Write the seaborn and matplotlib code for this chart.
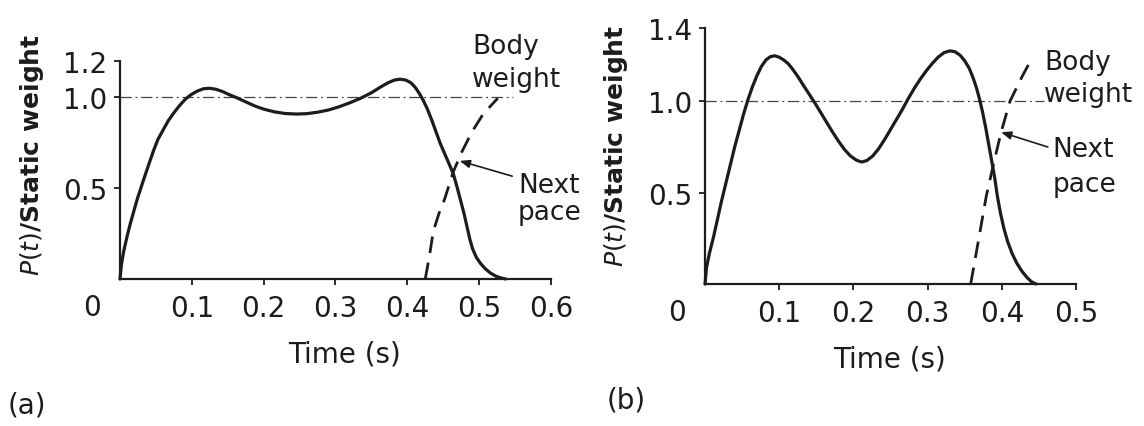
import matplotlib
matplotlib.use("Agg")
import matplotlib.pyplot as plt
import seaborn as sns
import pandas as pd

# ---- walking: ground reaction force over one footfall ----
walk_time = [0, 0.002, 0.005, 0.009, 0.014, 0.019, 0.024, 0.029, 0.034, 0.040,
             0.047, 0.053, 0.060, 0.067, 0.075, 0.083, 0.091, 0.099, 0.108,
             0.116, 0.124, 0.133, 0.142, 0.152, 0.163, 0.175, 0.188, 0.200,
             0.215, 0.230, 0.245, 0.260, 0.275, 0.290, 0.305, 0.320, 0.335,
             0.350, 0.362, 0.373, 0.382, 0.390, 0.398, 0.405, 0.411, 0.417,
             0.422, 0.428, 0.434, 0.440, 0.446, 0.452, 0.458, 0.464, 0.469,
             0.474, 0.479, 0.483, 0.487, 0.491, 0.496, 0.502, 0.509, 0.516,
             0.523, 0.530, 0.537]
walk_force = [0, 0.08, 0.15, 0.22, 0.30, 0.37, 0.44, 0.50, 0.56, 0.63,
              0.71, 0.77, 0.82, 0.87, 0.915, 0.955, 0.99, 1.015, 1.035,
              1.047, 1.05, 1.045, 1.033, 1.015, 0.997, 0.975, 0.952, 0.935,
              0.92, 0.911, 0.908, 0.91, 0.918, 0.93, 0.948, 0.97, 0.995,
              1.025, 1.055, 1.08, 1.095, 1.10, 1.095, 1.08, 1.055, 1.02,
              0.985, 0.935, 0.875, 0.81, 0.745, 0.69, 0.635, 0.58, 0.51,
              0.435, 0.36, 0.29, 0.22, 0.165, 0.12, 0.085, 0.055, 0.032,
              0.016, 0.006, 0.0]
walk_next_time = [0.425, 0.431, 0.436, 0.444, 0.452, 0.464, 0.476, 0.490, 0.506, 0.526]
walk_next_force = [0.0, 0.13, 0.26, 0.36, 0.44, 0.59, 0.70, 0.81, 0.91, 0.995]

# ---- fast walking: two sharper peaks, shorter contact ----
fast_time = [0, 0.002, 0.006, 0.011, 0.016, 0.022, 0.028, 0.034, 0.040, 0.046,
             0.052, 0.058, 0.064, 0.070, 0.076, 0.082, 0.088, 0.094, 0.100,
             0.106, 0.112, 0.118, 0.125, 0.132, 0.140, 0.148, 0.156, 0.164,
             0.172, 0.180, 0.188, 0.196, 0.204, 0.211, 0.218, 0.226, 0.234,
             0.242, 0.250, 0.258, 0.266, 0.274, 0.282, 0.290, 0.298, 0.306,
             0.314, 0.322, 0.330, 0.337, 0.344, 0.350, 0.356, 0.361, 0.366,
             0.370, 0.374, 0.378, 0.382, 0.386, 0.390, 0.394, 0.398, 0.403,
             0.408, 0.414, 0.420, 0.427, 0.434, 0.440, 0.446]
fast_force = [0, 0.09, 0.17, 0.25, 0.34, 0.45, 0.55, 0.65, 0.75, 0.84,
              0.93, 1.01, 1.08, 1.14, 1.19, 1.225, 1.243, 1.248, 1.24,
              1.225, 1.205, 1.175, 1.135, 1.09, 1.04, 0.99, 0.937, 0.883,
              0.83, 0.78, 0.735, 0.70, 0.677, 0.667, 0.675, 0.70, 0.74,
              0.79, 0.845, 0.90, 0.955, 1.015, 1.07, 1.12, 1.165, 1.205,
              1.24, 1.265, 1.275, 1.27, 1.25, 1.22, 1.18, 1.13, 1.07,
              1.01, 0.94, 0.86, 0.77, 0.68, 0.59, 0.48, 0.39, 0.30,
              0.23, 0.165, 0.115, 0.07, 0.035, 0.012, 0.0]
fast_next_time = [0.358, 0.369, 0.379, 0.389, 0.399, 0.411, 0.428, 0.440]
fast_next_force = [0.0, 0.25, 0.48, 0.66, 0.83, 1.00, 1.14, 1.23]

body_weight_level = 1.0
walk_xticks = [0.1, 0.2, 0.3, 0.4, 0.5, 0.6]
walk_yticks = [0.5, 1.0, 1.2]
fast_xticks = [0.1, 0.2, 0.3, 0.4, 0.5]
fast_yticks = [0.5, 1.0, 1.4]

sns.set_theme(style="ticks")
plt.rcParams["font.family"] = ["DejaVu Sans"]
plt.rcParams["mathtext.fontset"] = "dejavusans"
plt.rcParams["lines.solid_joinstyle"] = "round"
plt.rcParams["lines.solid_capstyle"] = "round"

INK = "#1c1c1c"
fig = plt.figure(figsize=(11.44, 4.27), dpi=100, facecolor="white")
ax_a = fig.add_axes([0.1049, 0.3443, 0.3767, 0.5105])
ax_b = fig.add_axes([0.6163, 0.3326, 0.3243, 0.5995])


def draw_panel(ax, t, f, tn, fn, xticks, yticks, ref_end):
    df = pd.DataFrame({"t": t, "f": f})
    dn = pd.DataFrame({"t": tn, "f": fn})
    ax.hlines(body_weight_level, 0, ref_end, color="#444444", lw=0.9,
              linestyles=(0, (9, 3, 1.5, 3)), zorder=1)
    sns.lineplot(data=df, x="t", y="f", ax=ax, sort=False, color=INK,
                 lw=2.3, estimator=None, zorder=3, clip_on=False)
    sns.lineplot(data=dn, x="t", y="f", ax=ax, sort=False, color=INK,
                 lw=2.0, estimator=None, zorder=3, clip_on=False,
                 dashes=False, linestyle=(0, (6, 3.5)))
    ax.set_xlim(0, xticks[-1])
    ax.set_ylim(0, yticks[-1])
    ax.set_xticks(xticks)
    ax.set_xticklabels([f"{v:.1f}" for v in xticks])
    ax.set_yticks(yticks)
    ax.set_yticklabels([f"{v:.1f}" for v in yticks])
    sns.despine(ax=ax)
    for s in ("left", "bottom"):
        ax.spines[s].set_linewidth(1.6)
        ax.spines[s].set_color(INK)
    ax.tick_params(axis="both", length=4, width=1.3, color=INK,
                   labelsize=20, labelcolor=INK)
    ax.tick_params(axis="x", pad=7)
    ax.tick_params(axis="y", pad=5)
    ax.set_facecolor("white")
    # origin label, set to the lower left of the corner
    ax.annotate("0", xy=(0, 0), xycoords=("data", "axes fraction"),
                xytext=(-20, -9.9), textcoords="offset points",
                ha="center", va="top", fontsize=20, color=INK)
    ax.set_xlabel("Time (s)", fontsize=20, color=INK)
    ax.set_ylabel(r"$P(t)$/Static weight", fontsize=18, fontweight="bold",
                  color=INK)
    ax.xaxis.label.set_va("center")
    ax.yaxis.label.set_va("center")


draw_panel(ax_a, walk_time, walk_force, walk_next_time, walk_next_force,
           walk_xticks, walk_yticks, 0.547)
draw_panel(ax_b, fast_time, fast_force, fast_next_time, fast_next_force,
           fast_xticks, fast_yticks, 0.457)

ax_a.xaxis.set_label_coords(0.522, -0.344)
ax_a.yaxis.set_label_coords(-0.205, 0.573)
ax_b.xaxis.set_label_coords(0.496, -0.293)
ax_b.yaxis.set_label_coords(-0.240, 0.543)

note = dict(fontsize=19, color=INK, ha="left", va="center", clip_on=False)
ax_a.text(0.490, 1.28, "Body", **note)
ax_a.text(0.490, 1.10, "weight", **note)
ax_a.text(0.554, 0.52, "Next", **note)
ax_a.text(0.554, 0.368, "pace", **note)
ax_a.annotate("", xy=(0.473, 0.65), xytext=(0.546, 0.566),
              arrowprops=dict(arrowstyle="-|>,head_length=0.5,head_width=0.2",
                              color=INK, lw=1.2, shrinkA=0, shrinkB=0))

ax_b.text(0.457, 1.213, "Body", **note)
ax_b.text(0.457, 1.04, "weight", **note)
ax_b.text(0.468, 0.738, "Next", **note)
ax_b.text(0.468, 0.546, "pace", **note)
ax_b.annotate("", xy=(0.399, 0.83), xytext=(0.462, 0.749),
              arrowprops=dict(arrowstyle="-|>,head_length=0.5,head_width=0.2",
                              color=INK, lw=1.2, shrinkA=0, shrinkB=0))

fig.text(0.0236, 0.0515, "(a)", fontsize=20, color=INK, ha="center", va="center")
fig.text(0.547, 0.063, "(b)", fontsize=20, color=INK, ha="center", va="center")

fig.savefig("out.png", dpi=100, facecolor="white")
